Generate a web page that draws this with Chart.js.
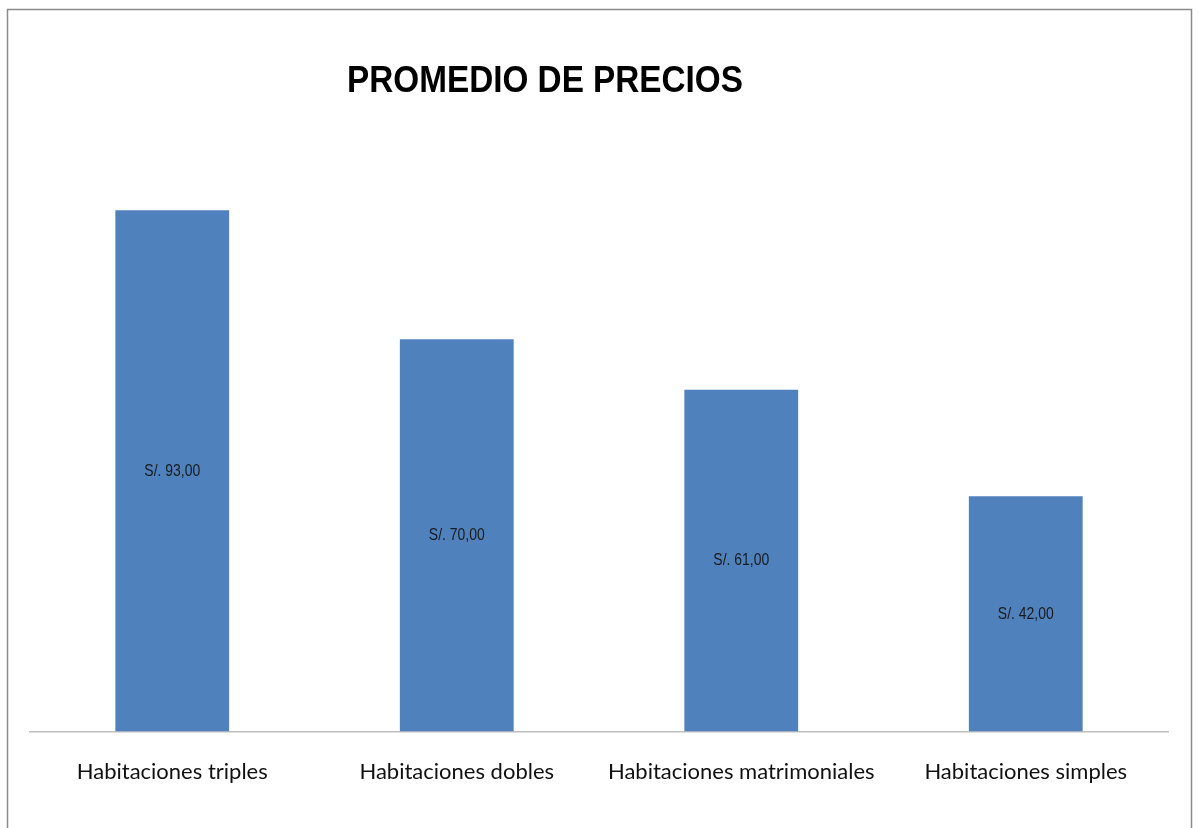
<!DOCTYPE html>
<html>
<head>
<meta charset="utf-8">
<script src="https://cdn.jsdelivr.net/npm/chart.js@4"></script>
<style>
  html, body { margin: 0; padding: 0; background: #fff; }
  #wrap { width: 1198px; height: 828px; }
</style>
</head>
<body>
<div id="wrap"><canvas id="myChart" width="1198" height="828"></canvas></div>
<script>
// data
const categories = ["Habitaciones triples", "Habitaciones dobles", "Habitaciones matrimoniales", "Habitaciones simples"];
const precios = [93, 70, 61, 42];
const titleText = "PROMEDIO DE PRECIOS";

// price label "S/. 93,00"
const fmt = (v) => "S/. " + v.toFixed(2).replace(".", ",");

// no narrow font installed, so squeeze the text horizontally
function narrowText(ctx, txt, x, y, sx) {
  ctx.save();
  ctx.translate(x, y);
  ctx.scale(sx, 1);
  ctx.fillText(txt, 0, 0);
  ctx.restore();
}

// frame + title drawn on the canvas
const decor = {
  id: "decor",
  beforeDraw(c) {
    const ctx = c.ctx;
    ctx.save();
    ctx.strokeStyle = "#8a8a8a";
    ctx.lineWidth = 1.5;
    ctx.strokeRect(7.5, 9.5, 1184, 840);
    ctx.restore();
  },
  afterDraw(c) {
    const ctx = c.ctx;
    ctx.save();
    ctx.fillStyle = "#000";
    ctx.font = "bold 37px 'Liberation Sans', Arial, sans-serif";
    ctx.textAlign = "center";
    ctx.textBaseline = "middle";
    narrowText(ctx, titleText, 545, 82, 0.9);
    ctx.restore();
  }
};

// value in the middle of each bar
const barLabels = {
  id: "barLabels",
  afterDatasetsDraw(c) {
    const ctx = c.ctx;
    const meta = c.getDatasetMeta(0);
    ctx.save();
    ctx.fillStyle = "#1a1a1a";
    ctx.font = "17px 'Liberation Sans', Arial, sans-serif";
    ctx.textAlign = "center";
    ctx.textBaseline = "middle";
    meta.data.forEach((bar, i) => {
      narrowText(ctx, fmt(precios[i]), bar.x, (bar.y + bar.base) / 2, 0.82);
    });
    ctx.restore();
  }
};

new Chart(document.getElementById("myChart"), {
  type: "bar",
  data: {
    labels: categories,
    datasets: [{
      data: precios,
      backgroundColor: "#4f81bd",
      borderWidth: 0,
      barPercentage: 0.4,
      categoryPercentage: 1
    }]
  },
  options: {
    responsive: false,
    animation: false,
    layout: { padding: { top: 171, left: 30, right: 30, bottom: 24 } },
    plugins: {
      legend: { display: false },
      title: { display: false },
      tooltip: { enabled: false }
    },
    scales: {
      x: {
        grid: { display: false },
        border: { display: true, color: "#bfbfbf", width: 1.5 },
        ticks: {
          color: "#111",
          padding: 19,
          maxRotation: 0,
          font: { family: "Lato, 'Open Sans', sans-serif", size: 22 }
        }
      },
      y: {
        display: false,
        min: 0,
        max: 100
      }
    }
  },
  plugins: [decor, barLabels]
});
</script>
</body>
</html>
